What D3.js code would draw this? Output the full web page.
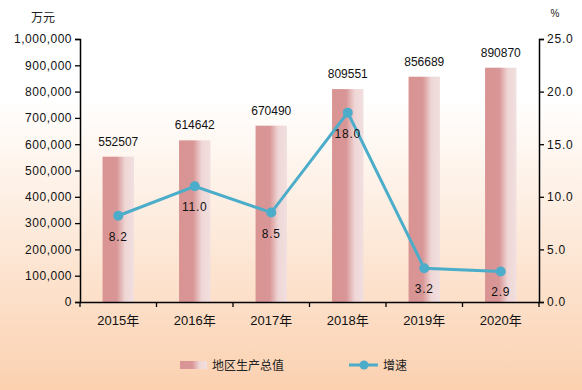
<!DOCTYPE html>
<html>
<head>
<meta charset="utf-8">
<script src="https://cdn.jsdelivr.net/npm/d3@7"></script>
<style>
  body { margin: 0; padding: 0; }
  svg { display: block; font-family: "Liberation Sans", "Noto Sans CJK SC", sans-serif; }
</style>
</head>
<body>
<script>
// chart data
var years = ["2015年", "2016年", "2017年", "2018年", "2019年", "2020年"];
var gdp = [552507, 614642, 670490, 809551, 856689, 890870];
var growth = [8.2, 11.0, 8.5, 18.0, 3.2, 2.9];
var leftTicks = [0, 100000, 200000, 300000, 400000, 500000, 600000, 700000, 800000, 900000, 1000000];
var rightTicks = [0, 5, 10, 15, 20, 25];

var W = 582, H = 390;
var margin = {top: 39, right: 43, bottom: 88, left: 80},
    width = W - margin.left - margin.right,
    height = H - margin.top - margin.bottom;

var svg = d3.select("body").append("svg")
    .attr("width", W)
    .attr("height", H);

var defs = svg.append("defs");
var bg = defs.append("linearGradient").attr("id", "bg")
    .attr("x1", 0).attr("y1", 0).attr("x2", 0).attr("y2", 1);
bg.append("stop").attr("offset", "0%").attr("stop-color", "#ffffff");
bg.append("stop").attr("offset", "25%").attr("stop-color", "#ffffff");
bg.append("stop").attr("offset", "100%").attr("stop-color", "#fbd1b0");

var barGrad = defs.append("linearGradient").attr("id", "barGrad")
    .attr("x1", 0).attr("y1", 0).attr("x2", 1).attr("y2", 0);
barGrad.append("stop").attr("offset", "0%").attr("stop-color", "#d99393");
barGrad.append("stop").attr("offset", "45%").attr("stop-color", "#d99696");
barGrad.append("stop").attr("offset", "72%").attr("stop-color", "#efd6d6");
barGrad.append("stop").attr("offset", "100%").attr("stop-color", "#f1dfdf");

svg.append("rect").attr("width", W).attr("height", H).attr("fill", "url(#bg)");

var g = svg.append("g")
    .attr("transform", "translate(" + margin.left + "," + margin.top + ")");

// scales
var x = d3.scaleBand().domain(years).range([0, width]).paddingInner(0).paddingOuter(0);
var y = d3.scaleLinear().domain([0, 1000000]).range([height, 0]);
var y2 = d3.scaleLinear().domain([0, 25]).range([height, 0]);

var barW = x.bandwidth() * 0.41;

// bars
g.selectAll(".bar")
    .data(gdp)
  .enter().append("rect")
    .attr("class", "bar")
    .attr("x", function(d, i) { return x(years[i]) + x.bandwidth() / 2 - barW / 2; })
    .attr("width", barW)
    .attr("y", function(d) { return y(d); })
    .attr("height", function(d) { return height - y(d); })
    .attr("fill", "url(#barGrad)");

// bar labels
g.selectAll(".barLabel")
    .data(gdp)
  .enter().append("text")
    .attr("x", function(d, i) { return x(years[i]) + x.bandwidth() / 2; })
    .attr("y", function(d) { return y(d) - 11; })
    .attr("text-anchor", "middle")
    .attr("font-size", 12)
    .attr("fill", "#111")
    .text(function(d) { return d; });

// axes
var axL = g.append("g")
    .call(d3.axisLeft(y).tickValues(leftTicks).tickSize(5).tickFormat(d3.format(",")));
var axR = g.append("g")
    .attr("transform", "translate(" + width + ",0)")
    .call(d3.axisRight(y2).tickValues(rightTicks).tickSize(5).tickFormat(d3.format(".1f")));
var axB = g.append("g")
    .attr("transform", "translate(0," + height + ")")
    .call(d3.axisBottom(x).tickSize(0).tickPadding(14));

// band boundary ticks on x axis
var bounds = years.map(function(d) { return x(d); }).concat([width]);
axB.selectAll(".bt")
    .data(bounds)
  .enter().append("line")
    .attr("x1", function(d) { return d; })
    .attr("x2", function(d) { return d; })
    .attr("y1", 0).attr("y2", 5)
    .attr("stroke", "#000").attr("stroke-width", 1.3);

[axL, axR, axB].forEach(function(a) {
  a.select(".domain").attr("stroke", "#000").attr("stroke-width", 1.5);
  a.selectAll(".tick line").attr("stroke", "#000").attr("stroke-width", 1.3);
  a.selectAll("text").attr("font-size", 12).attr("fill", "#111")
    .attr("font-family", "\"Liberation Sans\", \"Noto Sans CJK SC\", sans-serif");
});
axL.selectAll("text").attr("letter-spacing", 0.5);
axR.selectAll("text").attr("letter-spacing", 0.8);
axB.selectAll("text").attr("font-size", 13);

// line
var line = d3.line()
    .x(function(d, i) { return x(years[i]) + x.bandwidth() / 2; })
    .y(function(d) { return y2(d); });

g.append("path")
    .datum(growth)
    .attr("fill", "none")
    .attr("stroke", "#4badc9")
    .attr("stroke-width", 3)
    .attr("d", line);

g.selectAll(".dot")
    .data(growth)
  .enter().append("circle")
    .attr("cx", function(d, i) { return x(years[i]) + x.bandwidth() / 2; })
    .attr("cy", function(d) { return y2(d); })
    .attr("r", 5)
    .attr("fill", "#4badc9");

g.selectAll(".lineLabel")
    .data(growth)
  .enter().append("text")
    .attr("x", function(d, i) { return x(years[i]) + x.bandwidth() / 2; })
    .attr("y", function(d) { return y2(d) + 25; })
    .attr("text-anchor", "middle")
    .attr("font-size", 12)
    .attr("letter-spacing", 0.8)
    .attr("fill", "#111")
    .text(function(d) { return d3.format(".1f")(d); });

// axis titles
svg.append("text").attr("x", 43).attr("y", 22).attr("text-anchor", "middle")
    .attr("font-size", 12).attr("fill", "#222")
    .attr("font-family", "\"Noto Sans CJK SC\", sans-serif").text("万元");
svg.append("text").attr("x", 555).attr("y", 17).attr("text-anchor", "middle")
    .attr("font-size", 10).attr("fill", "#222").text("%");

// legend
var leg = svg.append("g").attr("transform", "translate(0,365)");
leg.append("rect").attr("x", 180).attr("y", -4).attr("width", 27).attr("height", 8)
    .attr("fill", "url(#barGrad)");
leg.append("text").attr("x", 212).attr("y", 4.5).attr("font-size", 12).attr("fill", "#222")
    .attr("font-family", "\"Noto Sans CJK SC\", sans-serif").text("地区生产总值");
leg.append("line").attr("x1", 349).attr("x2", 378).attr("y1", 0).attr("y2", 0)
    .attr("stroke", "#4badc9").attr("stroke-width", 3);
leg.append("circle").attr("cx", 364).attr("cy", 0).attr("r", 4.5).attr("fill", "#4badc9");
leg.append("text").attr("x", 383).attr("y", 4.5).attr("font-size", 12).attr("fill", "#222")
    .attr("font-family", "\"Noto Sans CJK SC\", sans-serif").text("增速");
</script>
</body>
</html>
